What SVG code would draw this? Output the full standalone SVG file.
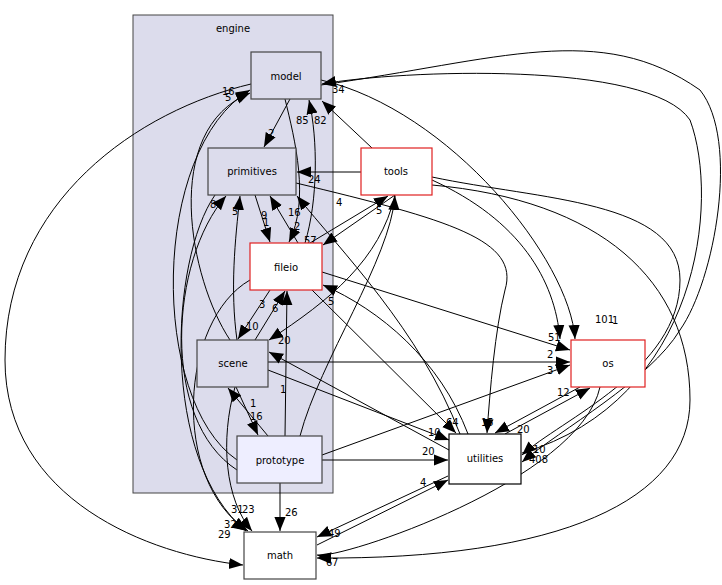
<svg xmlns="http://www.w3.org/2000/svg" width="722" height="585" viewBox="0 0 722 585">
<style>
text{font-family:"DejaVu Sans",sans-serif;font-size:10px;fill:#000}
.n{text-anchor:middle}
.e path{fill:none;stroke:#000;stroke-width:1;marker-end:url(#a)}
.in{fill:#dcdcec;stroke:#444;stroke-width:1.2}
.red{fill:#fff;stroke:#e02020;stroke-width:1.2}
.out{fill:#fff;stroke:#444;stroke-width:1.2}
</style>
<defs><marker id="a" markerUnits="userSpaceOnUse" markerWidth="14" markerHeight="14" viewBox="0 0 10 10" refX="10" refY="5" orient="auto"><path d="M0,1 L10,5 L0,9 Z" fill="#000"/></marker></defs>
<rect width="722" height="585" fill="#fff"/>
<g id="engine"><rect x="133" y="15" width="200" height="478" fill="#dcdcec" stroke="#444"/><text class="n" x="233" y="32">engine</text></g>
<g class="e" id="edges">
<path d="M290,99 L264,147"/>
<path d="M285,99 C295,140 310,200 289,242"/>
<path d="M305,243 C318,200 318,140 309,100"/>
<path d="M372,148 L322,101"/>
<path d="M361,172 L297,172"/>
<path d="M395,195 L323,245"/>
<path d="M310,243 L388,196"/>
<path d="M395,195 C380,260 330,300 269,340"/>
<path d="M300,436 C320,360 390,260 395,196"/>
<path d="M255,195 L270,242"/>
<path d="M298,243 L270,196"/>
<path d="M296,183 C450,220 520,240 505,290 C495,330 490,390 487,433"/>
<path d="M460,434 C420,330 340,250 297,196"/>
<path d="M312,290 L456,433"/>
<path d="M468,434 C440,360 380,310 323,285"/>
<path d="M268,370 L449,440"/>
<path d="M449,450 L269,352"/>
<path d="M236,387 L258,435"/>
<path d="M268,436 L228,388"/>
<path d="M322,460 L448,460"/>
<path d="M322,455 L570,365"/>
<path d="M280,483 L280,531"/>
<path d="M285,436 L287,291"/>
<path d="M255,340 L285,291"/>
<path d="M270,290 L238,339"/>
<path d="M268,362 L570,362"/>
<path d="M322,272 L570,350"/>
<path d="M432,180 C520,220 555,280 560,339"/>
<path d="M321,80 C450,110 570,260 575,339"/>
<path d="M580,387 L495,433"/>
<path d="M505,434 L590,388"/>
<path d="M600,387 C580,480 340,560 317,555"/>
<path d="M317,545 L448,480"/>
<path d="M448,476 L317,537"/>
<path d="M432,185 C600,200 690,280 690,400 C690,500 560,560 317,558"/>
<path d="M432,177 C540,200 680,200 680,280 C680,370 560,420 522,455"/>
<path d="M321,85 C500,60 600,20 700,90 C740,140 715,280 680,330 C650,380 560,430 522,462"/>
<path d="M522,453 C700,400 720,200 690,120 C650,60 400,70 322,84"/>
<path d="M251,84 C140,110 5,200 5,360 C5,500 150,555 243,565"/>
<path d="M230,340 C190,280 160,130 250,93"/>
<path d="M237,460 C150,400 150,150 250,90"/>
<path d="M235,387 C220,440 225,500 252,531"/>
<path d="M250,280 C180,320 170,480 248,531"/>
<path d="M215,195 C170,260 160,460 246,531"/>
<path d="M237,470 C160,420 170,260 226,196"/>
<path d="M237,340 C230,290 235,240 240,196"/>
</g>
<g id="labels">
<text x="268" y="137">2</text><text x="294" y="230">2</text><text x="296" y="124">85</text><text x="314" y="124">82</text>
<text x="308" y="183">24</text><text x="304" y="244">57</text><text x="336" y="206">4</text><text x="278" y="344">20</text>
<text x="376" y="214">5</text><text x="263" y="226">1</text><text x="261" y="219">9</text><text x="288" y="216">16</text>
<text x="481" y="426">15</text><text x="446" y="426">64</text><text x="328" y="305">5</text><text x="428" y="436">10</text>
<text x="280" y="393">1</text><text x="250" y="407">1</text><text x="250" y="420">16</text><text x="422" y="455">20</text>
<text x="547" y="374">3</text><text x="285" y="516">26</text><text x="272" y="312">6</text><text x="259" y="308">3</text>
<text x="246" y="330">10</text><text x="547" y="358">2</text><text x="548" y="341">51</text><text x="595" y="323">101</text>
<text x="612" y="324">1</text><text x="557" y="396">12</text><text x="517" y="433">20</text><text x="420" y="486">4</text>
<text x="328" y="537">49</text><text x="326" y="566">6</text><text x="332" y="566">7</text><text x="533" y="453">10</text>
<text x="529" y="463">408</text><text x="332" y="93">34</text><text x="222" y="95">16</text><text x="225" y="101">5</text>
<text x="218" y="538">29</text><text x="231" y="513">31</text><text x="242" y="513">23</text><text x="224" y="528">32</text>
<text x="210" y="208">8</text><text x="232" y="215">5</text>
</g>
<g id="model"><rect class="in" x="251" y="52" width="70" height="47"/><text class="n" x="286" y="80">model</text></g>
<g id="primitives"><rect class="in" x="208" y="148" width="88" height="47"/><text class="n" x="252" y="175">primitives</text></g>
<g id="fileio"><rect class="red" x="250" y="243" width="72" height="47"/><text class="n" x="286" y="271">fileio</text></g>
<g id="scene"><rect class="in" x="197" y="340" width="71" height="47"/><text class="n" x="233" y="367">scene</text></g>
<g id="prototype"><rect x="237" y="436" width="85" height="47" fill="#eeeeff" stroke="#444" stroke-width="1.2"/><text class="n" x="280" y="464">prototype</text></g>
<g id="tools"><rect class="red" x="361" y="148" width="71" height="47"/><text class="n" x="396" y="175">tools</text></g>
<g id="os"><rect class="red" x="571" y="340" width="74" height="47"/><text class="n" x="608" y="367">os</text></g>
<g id="utilities"><rect x="449" y="434" width="72" height="50" fill="#fff" stroke="#000" stroke-width="1.2"/><text class="n" x="485" y="462">utilities</text></g>
<g id="math"><rect class="out" x="244" y="532" width="72" height="47"/><text class="n" x="280" y="559">math</text></g>
</svg>
